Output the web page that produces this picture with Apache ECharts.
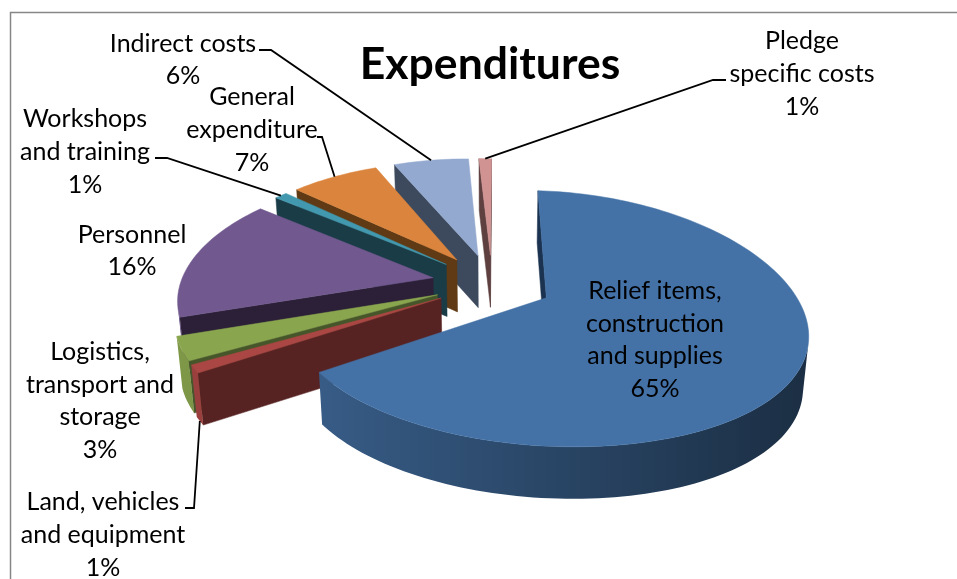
<!DOCTYPE html>
<html>
<head>
<meta charset="utf-8">
<style>html,body{margin:0;padding:0;background:#fff}#chart{width:957px;height:579px}</style>
<script src="https://cdn.jsdelivr.net/npm/echarts@6/dist/echarts.min.js"></script>
</head>
<body>
<div id="chart"></div>
<script>
// Expenditure shares, clockwise from twelve o'clock
var categories = [
  'Relief items,\nconstruction\nand supplies',
  'Land, vehicles\nand equipment',
  'Logistics,\ntransport and\nstorage',
  'Personnel',
  'Workshops\nand training',
  'General\nexpenditure',
  'Indirect costs',
  'Pledge\nspecific costs'
];
var shares = [65, 1, 3, 16, 1, 7, 6, 1];
var topColors = ['#4472A7', '#AA4643', '#89A54E', '#71588F', '#4198AF', '#DB843D', '#93A9CF', '#D19392'];
var cutColors = ['#1B3350', '#572322', '#46562A', '#2C2038', '#1A3C47', '#5F3A14', '#3D4A5D', '#5E4040'];
// Painting order: far slices first
var paintOrder = [7, 6, 5, 4, 3, 2, 1, 0];

// Label anchors and leader-line elbows, in page pixels
var labelLayout = [
  { x: 655, y: 340, elbow: null },
  { x: 103, y: 535, elbow: [[185, 508], [194, 508]], foot: true },
  { x: 100, y: 401, elbow: null },
  { x: 132, y: 251, elbow: null },
  { x: 85, y: 152, elbow: [[155, 158], [167, 158]] },
  { x: 252, y: 130, elbow: [[317, 137], [322, 137]] },
  { x: 183, y: 60, elbow: [[259, 50], [271, 50]] },
  { x: 802, y: 74, elbow: [[726, 80], [713, 80]] }
];

// Perspective of the tilted pie
var view = { cx: 492, cy: 283, a: 249, b: 120, skewX: 1, skewY: 7, persp: 0.16, perspX: 0.2, explode: 0.24, depth: 52, converge: 0.018 };
var total = shares.reduce(function (s, v) { return s + v; }, 0);
var bounds = [0];
shares.forEach(function (v, i) { bounds.push(bounds[i] + v / total * 360); });

function project(X, Y) {
  var w = 1 + view.persp * Y, wx = 1 + view.perspX * Y;
  return [view.cx + (view.a * X + view.skewX * Y) / wx, view.cy - (view.b * Y - view.skewY * X) / w];
}
function lower(p) {
  return [p[0] + (view.cx - p[0]) * view.converge, p[1] + view.depth];
}
function rim(i, deg, r) {
  var mid = (bounds[i] + bounds[i + 1]) / 2 * Math.PI / 180;
  var t = deg * Math.PI / 180;
  return project(view.explode * Math.sin(mid) + r * Math.sin(t), view.explode * Math.cos(mid) + r * Math.cos(t));
}
function apexOf(i) { return rim(i, 0, 0); }

function shade(hex, f) {
  var n = parseInt(hex.slice(1), 16);
  var c = [(n >> 16) & 255, (n >> 8) & 255, n & 255].map(function (v) { return Math.round(v * f); });
  return 'rgb(' + c.join(',') + ')';
}
function facingViewer(p, q) {
  var poly = [p, q, lower(q), lower(p)], s = 0;
  poly.forEach(function (a, k) {
    var b = poly[(k + 1) % 4];
    s += a[0] * b[1] - b[0] * a[1];
  });
  return s < 0;
}
function quad(p, q, fill) {
  return { type: 'polygon', shape: { points: [p, q, lower(q), lower(p)] }, style: { fill: fill, stroke: fill, lineWidth: 0.5 } };
}

function renderSlice(params, api) {
  var i = paintOrder[params.dataIndex];
  var from = bounds[i], to = bounds[i] + api.value(0) / total * 360;
  var arc = [];
  var steps = Math.max(4, Math.ceil((to - from) / 1.5));
  for (var k = 0; k <= steps; k++) arc.push(rim(i, from + (to - from) * k / steps, 1));
  var apex = apexOf(i), children = [];

  // Flat cut faces along the two radii
  if (facingViewer(apex, arc[0])) children.push(quad(apex, arc[0], cutColors[i]));
  if (facingViewer(arc[arc.length - 1], apex)) children.push(quad(arc[arc.length - 1], apex, cutColors[i]));

  // Curved outer wall, lit from the left
  var run = [];
  var flush = function () {
    if (run.length > 1) {
      var pts = run.concat(run.slice().reverse().map(lower));
      children.push({
        type: 'polygon', shape: { points: pts },
        style: {
          fill: new echarts.graphic.LinearGradient(180, 0, 810, 0, [
            { offset: 0, color: shade(topColors[i], 0.92) },
            { offset: 0.3, color: shade(topColors[i], 0.76) },
            { offset: 1, color: shade(topColors[i], 0.4) }
          ], true)
        }
      });
    }
    run = [];
  };
  for (var s = 0; s < arc.length - 1; s++) {
    if (facingViewer(arc[s], arc[s + 1])) {
      if (!run.length) run.push(arc[s]);
      run.push(arc[s + 1]);
    } else flush();
  }
  flush();

  // Top face
  children.push({
    type: 'polygon', shape: { points: [apex].concat(arc) },
    style: { fill: topColors[i], stroke: topColors[i], lineWidth: 0.5 }
  });
  return { type: 'group', children: children };
}

function renderLabel(params, api) {
  var i = params.dataIndex, spot = labelLayout[i], kids = [];
  if (spot.elbow) {
    var tip = rim(i, (bounds[i] + bounds[i + 1]) / 2, 1);
    if (spot.foot) tip = lower(tip);
    kids.push({
      type: 'polyline', shape: { points: spot.elbow.concat([tip]) },
      style: { stroke: '#000', lineWidth: 1.8, fill: null }
    });
  }
  kids.push({
    type: 'text', x: spot.x, y: spot.y,
    style: {
      text: categories[i] + '\n' + api.value(0) + '%',
      fontFamily: 'Lato, "Open Sans", sans-serif', fontSize: 25, lineHeight: 32.6,
      align: 'center', verticalAlign: 'middle', fill: '#000'
    }
  });
  return { type: 'group', children: kids };
}

var chart = echarts.init(document.getElementById('chart'), null, { renderer: 'canvas' });
chart.setOption({
  animation: false,
  backgroundColor: '#fff',
  title: {
    text: 'Expenditures', left: 485, top: 37, textAlign: 'center',
    textStyle: { fontFamily: 'Lato, "Open Sans", sans-serif', fontWeight: 'bold', fontSize: 44.5, color: '#000' }
  },
  graphic: [{
    type: 'rect', silent: true, z: -1,
    shape: { x: 10.5, y: 12.5, width: 1200, height: 900 },
    style: { fill: '#fff', stroke: '#868686', lineWidth: 1.5 }
  }],
  series: [
    {
      type: 'custom', coordinateSystem: 'none', silent: true, z: 2,
      renderItem: renderSlice,
      data: paintOrder.map(function (i) { return [shares[i]]; })
    },
    {
      type: 'custom', coordinateSystem: 'none', silent: true, z: 3,
      renderItem: renderLabel,
      data: shares.map(function (v) { return [v]; })
    }
  ]
});
</script>
</body>
</html>
